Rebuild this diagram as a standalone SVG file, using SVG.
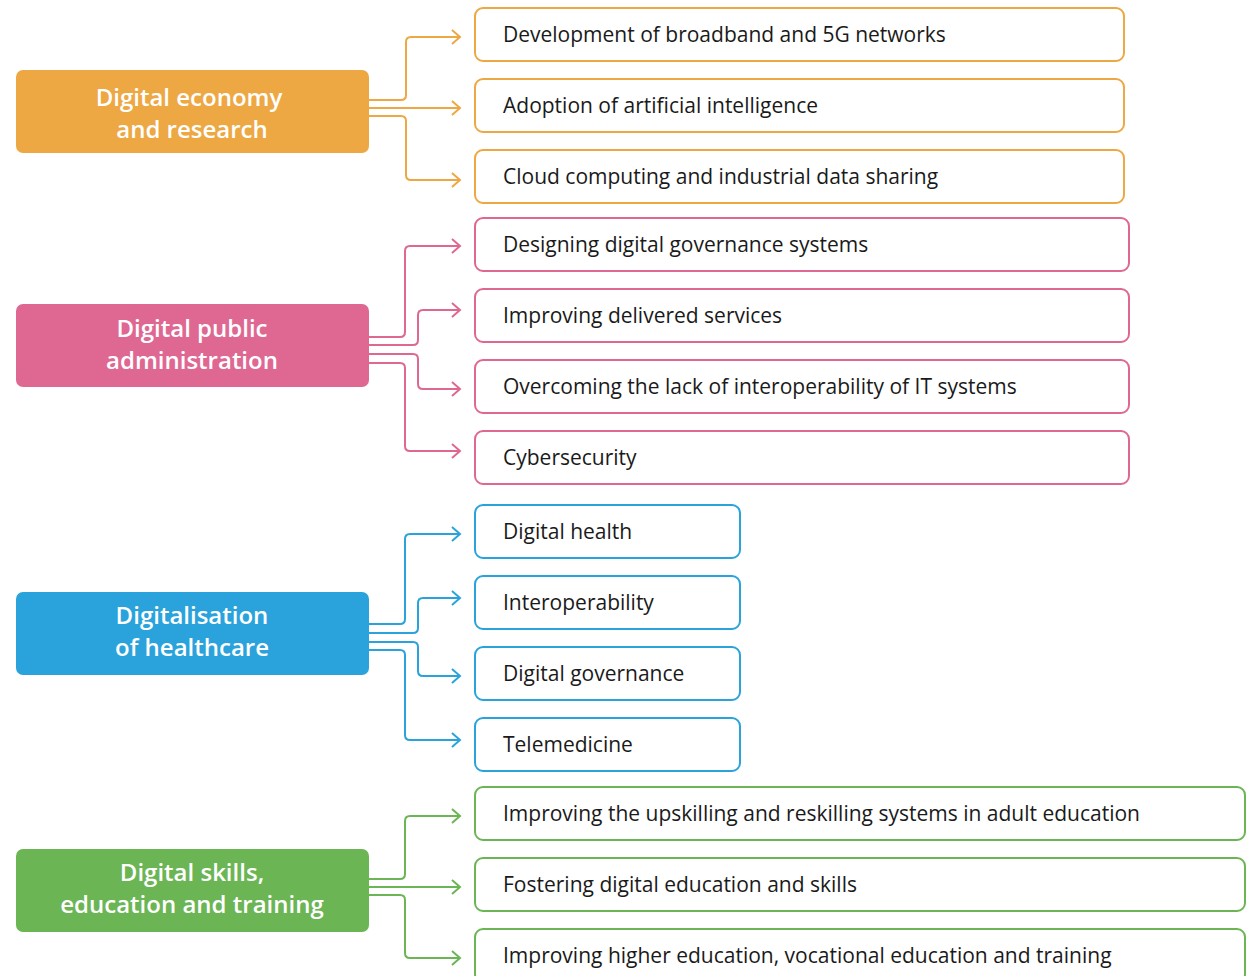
<svg xmlns="http://www.w3.org/2000/svg" width="1247" height="976" viewBox="0 0 1247 976">
<style>
.main text{font-family:"Open Sans","Liberation Sans",sans-serif;font-weight:600;font-size:24px;fill:#fff;text-anchor:middle}
.item text{font-family:"Open Sans","Liberation Sans",sans-serif;font-size:21px;fill:#1a1a1a}
.item rect{fill:#fff;stroke-width:2}
.o rect{stroke:#EDA843}.p rect{stroke:#DF6893}.b rect{stroke:#2AA3DC}.g rect{stroke:#6BB555}
.conn path{fill:none;stroke-width:2}
</style>
<defs>
<marker id="ao" markerUnits="userSpaceOnUse" markerWidth="12" markerHeight="16" refX="10" refY="8" orient="auto"><path d="M2,1 L10,8 L2,15" fill="none" stroke="#EDA843" stroke-width="2"/></marker>
<marker id="ap" markerUnits="userSpaceOnUse" markerWidth="12" markerHeight="16" refX="10" refY="8" orient="auto"><path d="M2,1 L10,8 L2,15" fill="none" stroke="#DF6893" stroke-width="2"/></marker>
<marker id="ab" markerUnits="userSpaceOnUse" markerWidth="12" markerHeight="16" refX="10" refY="8" orient="auto"><path d="M2,1 L10,8 L2,15" fill="none" stroke="#2AA3DC" stroke-width="2"/></marker>
<marker id="ag" markerUnits="userSpaceOnUse" markerWidth="12" markerHeight="16" refX="10" refY="8" orient="auto"><path d="M2,1 L10,8 L2,15" fill="none" stroke="#6BB555" stroke-width="2"/></marker>
</defs>
<rect width="1247" height="976" fill="#fff"/>
<g id="connectors" class="conn">
<g stroke="#EDA843">
<path marker-end="url(#ao)" d="M369,100 H401 Q406,100 406,95 V42 Q406,37 411,37 H460"/>
<path marker-end="url(#ao)" d="M369,108 H460"/>
<path marker-end="url(#ao)" d="M369,116 H401 Q406,116 406,121 V175 Q406,180 411,180 H460"/>
</g>
<g stroke="#DF6893">
<path marker-end="url(#ap)" d="M369,337 H400 Q405,337 405,332 V251 Q405,246 410,246 H460"/>
<path marker-end="url(#ap)" d="M369,345 H413 Q418,345 418,340 V315 Q418,310 423,310 H460"/>
<path marker-end="url(#ap)" d="M369,354 H413 Q418,354 418,359 V384 Q418,389 423,389 H460"/>
<path marker-end="url(#ap)" d="M369,363 H400 Q405,363 405,368 V446 Q405,451 410,451 H460"/>
</g>
<g stroke="#2AA3DC">
<path marker-end="url(#ab)" d="M369,624 H400 Q405,624 405,619 V539 Q405,534 410,534 H460"/>
<path marker-end="url(#ab)" d="M369,633 H413 Q418,633 418,628 V603 Q418,598 423,598 H460"/>
<path marker-end="url(#ab)" d="M369,642 H413 Q418,642 418,647 V671 Q418,676 423,676 H460"/>
<path marker-end="url(#ab)" d="M369,650 H400 Q405,650 405,655 V735 Q405,740 410,740 H460"/>
</g>
<g stroke="#6BB555">
<path marker-end="url(#ag)" d="M369,879 H400 Q405,879 405,874 V821 Q405,816 410,816 H460"/>
<path marker-end="url(#ag)" d="M369,887 H460"/>
<path marker-end="url(#ag)" d="M369,895 H400 Q405,895 405,900 V953 Q405,958 410,958 H460"/>
</g>
</g>
<g id="n-economy" class="main"><rect x="16" y="70" width="353" height="83" rx="7" fill="#EDA843"/><text x="189" y="106">Digital economy</text><text x="192" y="138">and research</text></g>
<g id="n-public" class="main"><rect x="16" y="304" width="353" height="83" rx="7" fill="#DF6893"/><text x="192" y="337">Digital public</text><text x="192" y="369">administration</text></g>
<g id="n-health" class="main"><rect x="16" y="592" width="353" height="83" rx="7" fill="#2AA3DC"/><text x="192" y="624">Digitalisation</text><text x="192" y="656">of healthcare</text></g>
<g id="n-skills" class="main"><rect x="16" y="849" width="353" height="83" rx="7" fill="#6BB555"/><text x="192" y="881">Digital skills,</text><text x="192" y="913">education and training</text></g>

<g id="n-o1" class="item o"><rect x="475" y="8" width="649" height="53" rx="8"/><text x="503" y="42">Development of broadband and 5G networks</text></g>
<g id="n-o2" class="item o"><rect x="475" y="79" width="649" height="53" rx="8"/><text x="503" y="113">Adoption of artificial intelligence</text></g>
<g id="n-o3" class="item o"><rect x="475" y="150" width="649" height="53" rx="8"/><text x="503" y="184">Cloud computing and industrial data sharing</text></g>

<g id="n-p1" class="item p"><rect x="475" y="218" width="654" height="53" rx="8"/><text x="503" y="252">Designing digital governance systems</text></g>
<g id="n-p2" class="item p"><rect x="475" y="289" width="654" height="53" rx="8"/><text x="503" y="323">Improving delivered services</text></g>
<g id="n-p3" class="item p"><rect x="475" y="360" width="654" height="53" rx="8"/><text x="503" y="394">Overcoming the lack of interoperability of IT systems</text></g>
<g id="n-p4" class="item p"><rect x="475" y="431" width="654" height="53" rx="8"/><text x="503" y="465">Cybersecurity</text></g>

<g id="n-b1" class="item b"><rect x="475" y="505" width="265" height="53" rx="8"/><text x="503" y="539">Digital health</text></g>
<g id="n-b2" class="item b"><rect x="475" y="576" width="265" height="53" rx="8"/><text x="503" y="610">Interoperability</text></g>
<g id="n-b3" class="item b"><rect x="475" y="647" width="265" height="53" rx="8"/><text x="503" y="681">Digital governance</text></g>
<g id="n-b4" class="item b"><rect x="475" y="718" width="265" height="53" rx="8"/><text x="503" y="752">Telemedicine</text></g>

<g id="n-g1" class="item g"><rect x="475" y="787" width="770" height="53" rx="8"/><text x="503" y="821">Improving the upskilling and reskilling systems in adult education</text></g>
<g id="n-g2" class="item g"><rect x="475" y="858" width="770" height="53" rx="8"/><text x="503" y="892">Fostering digital education and skills</text></g>
<g id="n-g3" class="item g"><rect x="475" y="929" width="770" height="53" rx="8"/><text x="503" y="963">Improving higher education, vocational education and training</text></g>
</svg>
